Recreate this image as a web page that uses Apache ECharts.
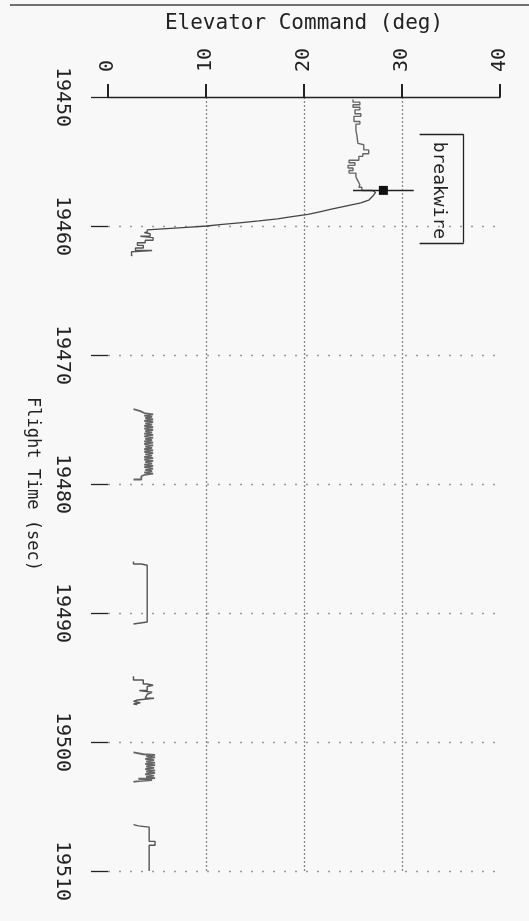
<!DOCTYPE html>
<html><head><meta charset="utf-8">
<script src="https://cdn.jsdelivr.net/npm/echarts@6/dist/echarts.min.js"></script>
<style>html,body{margin:0;padding:0;background:#f8f8f8}#c{width:529px;height:921px}</style>
</head><body><div id="c"></div><script>
// Tick values
const degTicks = [0, 10, 20, 30, 40];
const timeTicks = [19450, 19460, 19470, 19480, 19490, 19500, 19510];
// Segments: [flight time (sec), elevator command (deg)]
const seg1Hold = [
 [19450.2,25.0],[19450.4,25.7],[19450.6,25.0],[19450.8,25.7],[19451.0,25.2],[19451.3,25.8],
 [19451.5,25.1],[19451.9,25.7],[19452.1,25.3],[19452.6,25.4],[19453.0,25.5],[19453.6,25.6],
 [19453.7,26.1],[19454.1,26.6],[19454.4,26.0],[19454.6,25.6],[19454.9,24.6],[19455.1,25.2],
 [19455.3,24.5],[19455.5,25.0],[19455.7,24.6],[19455.9,25.3],[19456.2,25.5],[19456.5,25.7],
 [19456.8,25.6],[19457.0,25.9],[19457.25,27.0]
];
const seg1Drop = [
 [19457.25,27.0],[19457.4,27.3],[19457.7,27.0],[19458.0,26.6],[19458.2,25.8],[19458.4,24.6],
 [19458.7,22.8],[19458.9,21.6],[19459.1,20.4],[19459.3,18.6],[19459.45,17.3],[19459.6,15.4],
 [19459.75,13.4],[19459.9,11.4],[19460.0,10.1],[19460.1,8.0],[19460.2,6.0],[19460.3,4.0]
];
const seg1Tail = [
 [19460.3,4.0],[19460.5,3.7],[19460.6,4.3],[19460.8,3.3],[19460.9,4.6],[19461.1,3.8],
 [19461.3,3.0],[19461.5,3.6],[19461.7,2.8],[19461.9,4.5],[19462.0,2.4],[19462.3,2.5]
];
const seg2 = [
 [19474.2,2.6],[19474.35,3.3],
 [19474.5,3.7],[19474.6,4.6],[19474.7,3.7],[19474.8,4.5],[19474.9,3.8],
 [19475.0,4.6],[19475.1,3.7],[19475.2,4.6],[19475.3,3.8],[19475.4,4.5],
 [19475.5,3.7],[19475.6,4.6],[19475.7,3.7],[19475.8,4.6],[19475.9,3.8],
 [19476.0,4.5],[19476.1,3.7],[19476.2,4.6],[19476.3,3.7],[19476.4,4.6],
 [19476.5,3.8],[19476.6,4.5],[19476.7,3.7],[19476.8,4.6],[19476.9,3.7],
 [19477.0,4.6],[19477.1,3.8],[19477.2,4.5],[19477.3,3.7],[19477.4,4.6],
 [19477.5,3.7],[19477.6,4.6],[19477.7,3.8],[19477.8,4.5],[19477.9,3.7],
 [19478.0,4.6],[19478.1,3.7],[19478.2,4.6],[19478.3,3.8],[19478.4,4.5],
 [19478.5,3.7],[19478.6,4.6],[19478.7,3.7],[19478.8,4.6],[19478.9,3.8],
 [19479.0,4.5],[19479.1,3.7],[19479.2,4.6],[19479.3,3.7],[19479.4,3.4],[19479.65,2.6]
];
const seg3 = [[19486.0,2.6],[19486.2,3.4],[19486.3,4.0],[19490.7,4.0],[19490.85,2.6]];
const seg4 = [
 [19494.9,2.6],[19495.2,3.6],[19495.5,4.0],[19495.6,4.6],[19495.7,4.0],[19496.0,3.2],
 [19496.15,4.5],[19496.3,4.0],[19496.45,3.8],[19496.6,4.7],[19496.75,3.0],[19496.85,2.6],
 [19496.95,3.3],[19497.05,2.6],[19497.1,3.0]
];
const seg5 = [
 [19500.8,2.6],[19500.95,3.6],
 [19501.0,4.8],[19501.1,3.9],[19501.2,4.8],[19501.3,3.8],[19501.4,4.7],
 [19501.5,3.9],[19501.6,4.8],[19501.7,3.8],[19501.8,4.8],[19501.9,3.9],
 [19502.0,4.7],[19502.1,3.8],[19502.2,4.8],[19502.3,3.9],[19502.4,4.8],
 [19502.5,3.8],[19502.6,4.7],[19502.7,3.9],[19502.8,4.8],
 [19502.85,3.1],[19502.95,4.5],[19503.05,2.9],[19503.1,2.6]
];
const seg6 = [[19506.4,2.6],[19506.5,3.1],[19506.6,4.2],[19507.7,4.8],[19508.0,4.2],[19510.0,4.2]];
// Breakwire annotation
const breakwireTime = 19457.24;
const breakwireDeg = 28.1;
const breakwireLabel = 'breakwire';

const MONO = '"DejaVu Sans Mono", "Liberation Mono", monospace';
const chart = echarts.init(document.getElementById('c'), null, {renderer: 'canvas'});

function mk(s, step, width, color) {
  return {
    type: 'line', step: step, symbol: 'none', animation: false, silent: true,
    data: s.map(p => [p[1], p[0]]),
    lineStyle: {color: color, width: width}
  };
}
const lineSeries = [
  mk(seg1Hold, 'start', 1.4, '#666'),
  mk(seg1Drop, false, 1.3, '#444'),
  mk(seg1Tail, 'start', 1.4, '#555'),
  mk(seg2, 'start', 1.8, '#666'),
  mk(seg3, 'start', 1.4, '#555'),
  mk(seg4, 'start', 1.5, '#555'),
  mk(seg5, 'start', 1.8, '#666'),
  mk(seg6, 'start', 1.4, '#555')
];

const bx1 = 31.8, bx2 = 36.3, by1 = 19452.9, by2 = 19461.3;
lineSeries.push({
  type: 'line', data: [], symbol: 'none', animation: false, silent: true,
  markLine: {
    silent: true, symbol: 'none', animation: false,
    label: {show: false},
    lineStyle: {color: '#222', width: 1.3, type: 'solid'},
    data: [
      [{coord: [25.0, breakwireTime]}, {coord: [31.2, breakwireTime]}],
      [{coord: [bx1, by1]}, {coord: [bx2, by1]}],
      [{coord: [bx2, by1]}, {coord: [bx2, by2]}],
      [{coord: [bx1, by2]}, {coord: [bx2, by2]}]
    ]
  },
  markPoint: {
    silent: true, animation: false,
    symbol: 'rect', symbolSize: 9,
    itemStyle: {color: '#111'},
    label: {show: false},
    data: [{coord: [breakwireDeg, breakwireTime]}]
  }
});

chart.setOption({
  backgroundColor: '#f8f8f8',
  animation: false,
  grid: {left: 108, right: 29, top: 97, bottom: 50, containLabel: false},
  xAxis: {
    type: 'value', position: 'top',
    min: degTicks[0], max: degTicks[degTicks.length - 1], interval: 10,
    name: 'Elevator Command (deg)', nameLocation: 'middle', nameGap: 63,
    nameTextStyle: {fontFamily: MONO, fontSize: 21, color: '#222'},
    axisLine: {show: true, lineStyle: {color: '#222', width: 1.3}},
    axisTick: {show: true, length: 13, lineStyle: {color: '#222', width: 2}},
    axisLabel: {rotate: -90, margin: 25, fontFamily: MONO, fontSize: 20, color: '#222',
      formatter: v => String(v)},
    splitLine: {show: true, showMinLine: false, showMaxLine: false,
      lineStyle: {color: '#888', width: 1.3, type: [2, 2]}}
  },
  yAxis: {
    type: 'value', inverse: true,
    min: timeTicks[0], max: timeTicks[timeTicks.length - 1], interval: 10,
    name: 'Flight Time (sec)', nameLocation: 'middle', nameGap: 67, nameRotate: -90,
    nameTextStyle: {fontFamily: MONO, fontSize: 17, color: '#222'},
    axisLine: {show: false},
    axisTick: {show: true, length: 17, lineStyle: {color: '#222', width: 1.3}},
    axisLabel: {rotate: -90, margin: 36, fontFamily: MONO, fontSize: 20, color: '#222',
      formatter: v => String(v)},
    splitLine: {show: true, showMinLine: false, showMaxLine: true,
      lineStyle: {color: '#999', width: 1.3, type: [2, 9]}}
  },
  series: lineSeries
});

const tp = chart.convertToPixel({gridIndex: 0}, [(bx1 + bx2) / 2 - 0.3, breakwireTime]);
chart.setOption({
  graphic: [
    {type: 'line', shape: {x1: 10, y1: 5, x2: 529, y2: 5}, style: {stroke: '#444', lineWidth: 1.3}, silent: true},
    {type: 'text', x: tp[0], y: tp[1], rotation: -Math.PI / 2, silent: true,
      style: {text: breakwireLabel, font: '18px ' + MONO, fill: '#222', align: 'center', verticalAlign: 'middle'}}
  ]
});
</script></body></html>
